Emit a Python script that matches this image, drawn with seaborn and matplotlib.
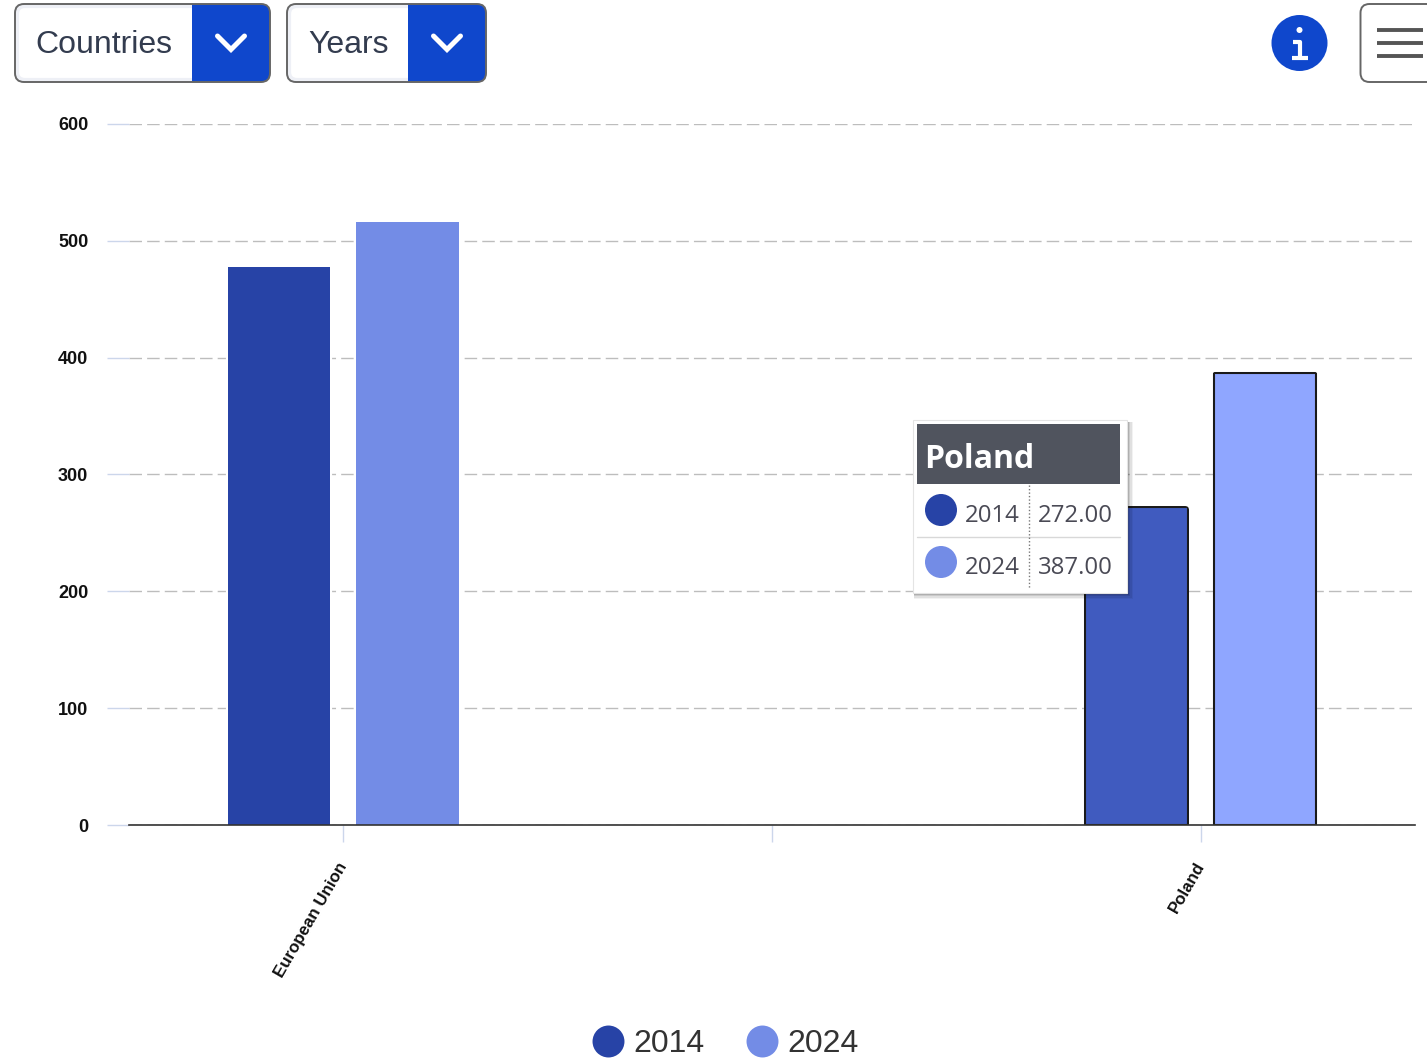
import pandas as pd
import numpy as np
import seaborn as sns
import matplotlib
matplotlib.use("Agg")
import matplotlib.pyplot as plt
import matplotlib.patheffects as pe
from matplotlib.lines import Line2D
from matplotlib.patches import FancyBboxPatch, Rectangle, Circle

categories = ["European Union", " ", "Poland"]
years = ["2014", "2024"]
values_2014 = [478, np.nan, 272]
values_2024 = [516, np.nan, 387]
y_ticks = [0, 100, 200, 300, 400, 500, 600]
colors = {"2014": "#2743A6", "2024": "#738CE6"}
hover_colors = {"2014": "#405BBF", "2024": "#8FA6FF"}
tooltip_title = "Poland"
tooltip_values = ["272.00", "387.00"]

sns.set_theme(style="white")
plt.rcParams["font.family"] = ["Liberation Sans", "DejaVu Sans"]

W, H = 1427, 1059
fig = plt.figure(figsize=(W / 100, H / 100), dpi=100, facecolor="white")
ax = fig.add_axes([129 / W, 1 - 825 / H, (1415 - 129) / W, (825 - 124) / H])

df = pd.DataFrame({
    "country": categories * 2,
    "year": [years[0]] * 3 + [years[1]] * 3,
    "value": values_2014 + values_2024,
})
sns.barplot(data=df, x="country", y="value", hue="year", order=categories,
            hue_order=years, palette=colors, width=0.6, gap=0.2, errorbar=None,
            legend=False, ax=ax, linewidth=0, saturation=1)

hovered_bars = []
for container, year in zip(ax.containers, years):
    bars = [b for b in container if np.isfinite(b.get_height()) and b.get_height() > 0]
    for b in bars[:-1]:
        b.set_path_effects([pe.withStroke(linewidth=3.0, foreground="white")])
    hovered = bars[-1]
    hovered.set_facecolor(hover_colors[year])
    hovered.set_edgecolor("#1a1a1a")
    hovered.set_linewidth(1.5)
    hovered_bars.append(hovered)

ax.set_xlim(-0.5, 2.5)
ax.set_ylim(0, 600)
ax.set_yticks(y_ticks)
ax.set_xlabel("")
ax.set_ylabel("")
ax.set_axisbelow(True)
ax.yaxis.grid(True, color="#BDBDBD", linewidth=1.0, linestyle=(0, (9, 3.7)))
ax.xaxis.grid(False)
sns.despine(ax=ax, left=True)
ax.spines["bottom"].set_color("#333333")
ax.spines["bottom"].set_linewidth(1.2)
ax.tick_params(axis="y", length=15.8, width=1, color="#CCD6EB", pad=13.5,
               labelsize=13, labelcolor="#111111", left=True)
ax.tick_params(axis="x", length=12, width=1, color="#CCD6EB", pad=15.5,
               labelsize=12.2, labelcolor="#111111", bottom=True)
for t in ax.get_yticklabels():
    t.set_fontweight("bold")
for t in ax.get_xticklabels():
    t.set_fontweight("bold")
    t.set_rotation(60)
    t.set_ha("right")
    t.set_va("center")
    t.set_rotation_mode("anchor")

handles = [Line2D([], [], linestyle="none", marker="o", markersize=23,
                  markerfacecolor=colors[y], markeredgecolor=colors[y],
                  markeredgewidth=0, label=y) for y in years]
fig.legend(handles=handles, ncols=2, loc="center",
           bbox_to_anchor=(725.5 / W, 1 - 1044.5 / H), frameon=False, fontsize=23,
           handlelength=1.0, handletextpad=0.3, columnspacing=1.28, borderpad=0,
           labelcolor="#333333")

# overlay in pixel coordinates for the page furniture around the chart
ov = fig.add_axes([0, 0, 1, 1], zorder=5)
ov.set_xlim(0, W)
ov.set_ylim(H, 0)
ov.axis("off")

BLUE = "#0F47CC"

def rbox(x0, y0, x1, y1, r=9, **kw):
    p = FancyBboxPatch((x0, y0), x1 - x0, y1 - y0,
                       boxstyle=f"round,pad=0,rounding_size={r}", **kw)
    ov.add_patch(p)
    return p

# slightly rounded top corners on the hovered bars
for b in hovered_bars:
    ext = b.get_window_extent(fig.canvas.get_renderer())
    clip = FancyBboxPatch((ext.x0 - 1.2, H - ext.y1 - 1.2), ext.width + 2.4, ext.height + 12,
                          boxstyle="round,pad=0,rounding_size=4",
                          transform=ov.transData)
    b.set_clip_path(clip)

def dropdown(x0, split, x1, label, text_x):
    y0, y1 = 4, 82
    base = rbox(x0, y0, x1, y1, fc="white", ec="none")
    inner = rbox(x0 + 2, y0 + 2, x1 - 2, y1 - 2, r=8, fc="none", ec="#EEF0F6", lw=3)
    inner.set_clip_path(base)
    blue = Rectangle((split, y0), x1 - split, y1 - y0, fc=BLUE, ec="none")
    ov.add_patch(blue)
    blue.set_clip_path(base)
    rbox(x0, y0, x1, y1, fc="none", ec="#666666", lw=1.4)
    ov.text(text_x, 45, label, fontsize=23, color="#333C4F", ha="left", va="center")
    cx = (split + x1) / 2
    ov.plot([cx - 13.5, cx, cx + 13.5], [36, 49.5, 36], color="white", lw=3.6,
            solid_capstyle="round", solid_joinstyle="miter")

dropdown(15, 192, 270, "Countries", 35)
dropdown(287, 408, 486, "Years", 308)

ov.add_patch(Circle((1299.5, 43), 28, fc=BLUE, ec="none"))
ov.add_patch(Circle((1299.5, 30), 3, fc="white", ec="none"))
ov.plot([1293, 1300, 1300], [42, 42, 57], color="white", lw=3, solid_capstyle="butt")
ov.plot([1292, 1308], [57.5, 57.5], color="white", lw=3, solid_capstyle="butt")

rbox(1360.5, 4, 1450, 82, fc="white", ec="#666666", lw=1.4)
for yy in (30, 43, 56):
    ov.plot([1377, 1423], [yy, yy], color="#555555", lw=2.8, solid_capstyle="butt")

# tooltip
for off, a in ((6, .05), (4.5, .07), (3, .10), (1.5, .14)):
    ov.add_patch(Rectangle((914, 422), 213 + off, 171 + off,
                           fc="#000000", ec="none", alpha=a))
ov.add_patch(Rectangle((913, 420), 214, 173, fc="white", ec="#E4E4E4", lw=0.8))
ov.add_patch(Rectangle((917, 424), 203, 60, fc="#50545E", ec="none"))
ov.text(924, 459, tooltip_title, fontsize=23, fontweight="bold", color="white",
        family="Open Sans", ha="left", va="center")
ov.plot([917, 1120], [537, 537], color="#D8D8D8", lw=1)
ov.plot([1028.5, 1028.5], [485, 588], color="#777777", lw=1, linestyle=(0, (1, 1.5)))
for yy, y_name, val in zip((511, 563), years, tooltip_values):
    ov.add_patch(Circle((941, yy - 1), 16, fc=colors[y_name], ec="none"))
    ov.text(965, yy + 4.5, y_name, fontsize=17.3, color="#4A4A55", family="Open Sans",
            ha="left", va="center")
    ov.text(1038, yy + 4.5, val, fontsize=17.3, color="#4A4A55", family="Open Sans",
            ha="left", va="center")

fig.savefig("out.png", dpi=100)
